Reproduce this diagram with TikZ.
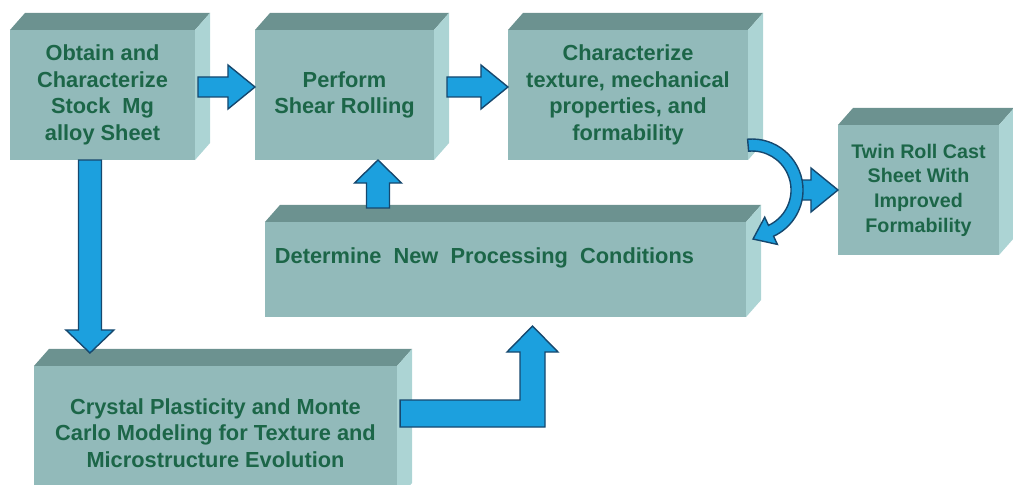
\documentclass[tikz,border=0pt]{standalone}
\usepackage{fontspec}
\setmainfont{Liberation Sans}
\usetikzlibrary{calc}

\definecolor{slabfront}{RGB}{146,186,186}
\definecolor{slabtop}{RGB}{108,146,144}
\definecolor{slabside}{RGB}{172,212,212}
\definecolor{slabtext}{RGB}{28,102,72}
\definecolor{arrowfill}{RGB}{28,160,222}
\definecolor{arrowline}{RGB}{22,72,110}

% horizontal block arrow from tail #1 to tip #2 (same height)
\newcommand\harrow[2]{\draw[blockarrow] ($(#1)+(0,-10)$) -- ($(#2)+(-27,-10)$) -- ($(#2)+(-27,-22)$) -- (#2)
  -- ($(#2)+(-27,22)$) -- ($(#2)+(-27,10)$) -- ($(#1)+(0,10)$) -- cycle;}

\begin{document}
\begin{tikzpicture}[x=0.025cm,y=-0.025cm,
  slab/.style={fill=slabfront,inner sep=0pt,outer sep=0pt,align=center,
    text=slabtext,font=\bfseries\fontsize{15.5}{19}\selectfont},
  blockarrow/.style={fill=arrowfill,draw=arrowline,line width=1pt,line join=miter}]
\clip (0,0) rectangle (1013,485);
% front faces
\node[slab,minimum width=4.625cm,minimum height=3.25cm] (obtain) at (102.5,95)
  {Obtain and\\Characterize\\Stock\ \ Mg\\alloy Sheet};
\node[slab,minimum width=4.475cm,minimum height=3.25cm] (shear) at (344.5,95)
  {Perform\\Shear Rolling};
\node[slab,minimum width=6cm,minimum height=3.25cm] (charact) at (628,95)
  {Characterize\\texture, mechanical\\properties, and\\formability};
\node[slab,font=\bfseries\fontsize{14}{17.5}\selectfont,minimum width=4.025cm,minimum height=3.25cm] (twin) at (918.5,190)
  {Twin Roll Cast\\Sheet With\\Improved\\Formability};
\node[slab,minimum width=12.025cm,minimum height=2.375cm] (determine) at (505.5,269.5) {};
\node[slab,fill=none,anchor=west] (newcond) at ($(determine.west)+(10,-12)$)
  {Determine\ \ New\ \ Processing\ \ Conditions};
\node[slab,minimum width=9.075cm,minimum height=3.35cm] (crystal) at (215.5,433)
  {Crystal Plasticity and Monte\\Carlo Modeling for Texture and\\Microstructure Evolution};
% top and side faces
\foreach \n in {obtain,shear,charact,twin,determine,crystal} {
  \fill[slabtop] (\n.north west) -- ++(15,-17) -- ($(\n.north east)+(15,-17)$) -- (\n.north east) -- cycle;
  \fill[slabside] (\n.north east) -- ++(15,-17) -- ($(\n.south east)+(15,-17)$) -- (\n.south east) -- cycle;
}
% arrows along the top row
\coordinate (t1) at ($(obtain.east)+(3,-8)$);
\coordinate (h1) at ($(shear.west)+(0,-8)$);
\harrow{t1}{h1}
\coordinate (t2) at ($(shear.east)+(13,-8)$);
\coordinate (h2) at ($(charact.west)+(0,-8)$);
\harrow{t2}{h2}
% obtain -> crystal
\coordinate (h3) at ($(crystal.north west)+(56,-13)$);
\coordinate (t3) at (obtain.south -| h3);
\draw[blockarrow] ($(t3)+(-11.5,0)$) -- ($(h3)+(-11.5,-23)$) -- ($(h3)+(-24,-23)$) -- (h3)
  -- ($(h3)+(24,-23)$) -- ($(h3)+(11.5,-23)$) -- ($(t3)+(11.5,0)$) -- cycle;
% determine -> shear
\coordinate (h4) at ($(shear.south)+(33.5,0)$);
\coordinate (t4) at ($(h4 |- determine.north)+(0,-14)$);
\draw[blockarrow] ($(t4)+(-11.5,0)$) -- ($(h4)+(-11.5,23)$) -- ($(h4)+(-23.5,23)$) -- (h4)
  -- ($(h4)+(23.5,23)$) -- ($(h4)+(11.5,23)$) -- ($(t4)+(11.5,0)$) -- cycle;
% crystal -> determine (elbow)
\coordinate (t5) at ($(crystal.east)+(3,-19.5)$);
\coordinate (h5) at ($(determine.south)+(27,9)$);
\coordinate (c5) at (h5 |- t5);
\draw[blockarrow] ($(t5)+(0,-13.5)$) -- ($(c5)+(-12.5,-13.5)$) -- ($(h5)+(-12.5,26)$) -- ($(h5)+(-25.5,26)$)
  -- (h5) -- ($(h5)+(25.5,26)$) -- ($(h5)+(12.5,26)$) -- ($(c5)+(12.5,13.5)$) -- ($(t5)+(0,13.5)$) -- cycle;
% characterize -> twin / back to determine
\coordinate (bend) at ($(charact.south east)+(4,30)$);
\coordinate (t6) at ($(bend)+(46,0)$);
\harrow{t6}{twin.west}
\draw[blockarrow] ($(bend)+(-95:51)$) arc[start angle=-95,end angle=65,radius=51]
  -- ($(bend)+(65:60)$) -- ($(bend)+(1,49)$) -- ($(bend)+(65:30)$) -- ($(bend)+(65:39)$)
  arc[start angle=65,end angle=-95,radius=39] -- cycle;
\end{tikzpicture}
\end{document}
